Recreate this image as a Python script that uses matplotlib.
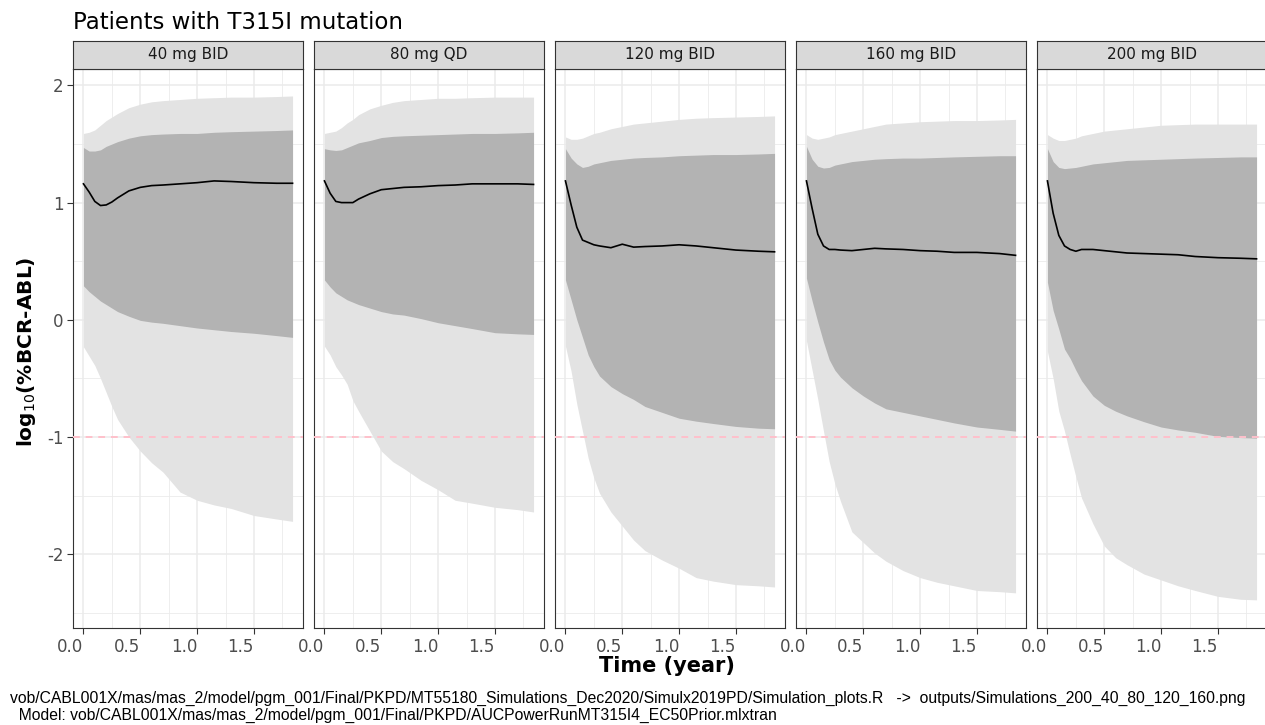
import matplotlib
matplotlib.use("Agg")
import matplotlib.pyplot as plt

panels = ["40 mg BID", "80 mg QD", "120 mg BID", "160 mg BID", "200 mg BID"]

t = [0, 0.05, 0.1, 0.15, 0.2, 0.25, 0.3, 0.4, 0.5, 0.6, 0.7, 0.85, 1.0, 1.15, 1.3, 1.5, 1.7, 1.84]

median = [
    [1.16, 1.09, 1.01, 0.975, 0.98, 1.005, 1.04, 1.10, 1.13, 1.145, 1.15, 1.16, 1.17, 1.185, 1.18, 1.17, 1.165, 1.165],
    [1.185, 1.08, 1.01, 1.0, 1.0, 1.0, 1.03, 1.075, 1.11, 1.12, 1.13, 1.135, 1.145, 1.15, 1.16, 1.16, 1.16, 1.155],
    [1.185, 0.98, 0.79, 0.68, 0.66, 0.64, 0.63, 0.615, 0.645, 0.62, 0.625, 0.63, 0.64, 0.63, 0.615, 0.595, 0.585, 0.58],
    [1.185, 0.95, 0.73, 0.63, 0.60, 0.60, 0.595, 0.59, 0.60, 0.61, 0.605, 0.60, 0.59, 0.585, 0.575, 0.575, 0.565, 0.55],
    [1.185, 0.91, 0.72, 0.63, 0.60, 0.585, 0.60, 0.60, 0.59, 0.58, 0.57, 0.565, 0.56, 0.555, 0.54, 0.53, 0.525, 0.52],
]
inner_hi = [
    [1.47, 1.44, 1.44, 1.45, 1.48, 1.50, 1.52, 1.55, 1.57, 1.58, 1.585, 1.59, 1.59, 1.60, 1.605, 1.61, 1.615, 1.62],
    [1.46, 1.45, 1.445, 1.45, 1.47, 1.49, 1.51, 1.53, 1.555, 1.565, 1.57, 1.575, 1.58, 1.585, 1.59, 1.59, 1.595, 1.60],
    [1.46, 1.38, 1.33, 1.30, 1.31, 1.33, 1.34, 1.36, 1.37, 1.38, 1.385, 1.39, 1.40, 1.405, 1.41, 1.41, 1.415, 1.42],
    [1.48, 1.37, 1.31, 1.295, 1.30, 1.32, 1.33, 1.35, 1.36, 1.37, 1.375, 1.38, 1.38, 1.385, 1.39, 1.395, 1.40, 1.40],
    [1.46, 1.35, 1.30, 1.29, 1.295, 1.30, 1.31, 1.33, 1.34, 1.35, 1.36, 1.365, 1.37, 1.375, 1.38, 1.385, 1.39, 1.39],
]
inner_lo = [
    [0.29, 0.24, 0.20, 0.16, 0.13, 0.10, 0.07, 0.03, -0.005, -0.02, -0.03, -0.05, -0.07, -0.085, -0.10, -0.115, -0.135, -0.15],
    [0.34, 0.28, 0.23, 0.20, 0.17, 0.15, 0.13, 0.10, 0.07, 0.05, 0.04, 0.01, -0.025, -0.05, -0.075, -0.11, -0.12, -0.125],
    [0.34, 0.17, 0.0, -0.15, -0.30, -0.40, -0.48, -0.57, -0.63, -0.68, -0.74, -0.79, -0.84, -0.865, -0.885, -0.91, -0.925, -0.93],
    [0.355, 0.16, -0.02, -0.19, -0.34, -0.43, -0.49, -0.58, -0.65, -0.71, -0.76, -0.79, -0.82, -0.85, -0.88, -0.915, -0.935, -0.95],
    [0.32, 0.08, -0.08, -0.25, -0.33, -0.43, -0.52, -0.65, -0.73, -0.78, -0.82, -0.87, -0.915, -0.94, -0.96, -0.995, -1.005, -1.01],
]
outer_hi = [
    [1.59, 1.60, 1.62, 1.66, 1.70, 1.73, 1.76, 1.81, 1.84, 1.86, 1.87, 1.88, 1.89, 1.895, 1.90, 1.90, 1.905, 1.91],
    [1.59, 1.60, 1.61, 1.64, 1.68, 1.71, 1.75, 1.80, 1.83, 1.855, 1.87, 1.88, 1.89, 1.89, 1.895, 1.90, 1.90, 1.90],
    [1.56, 1.54, 1.54, 1.55, 1.57, 1.59, 1.60, 1.63, 1.65, 1.67, 1.68, 1.695, 1.71, 1.72, 1.725, 1.73, 1.735, 1.74],
    [1.58, 1.55, 1.54, 1.55, 1.56, 1.58, 1.59, 1.61, 1.63, 1.65, 1.67, 1.68, 1.69, 1.695, 1.70, 1.70, 1.705, 1.71],
    [1.58, 1.55, 1.53, 1.53, 1.54, 1.55, 1.57, 1.59, 1.61, 1.62, 1.63, 1.645, 1.66, 1.665, 1.67, 1.67, 1.67, 1.67],
]
outer_lo = [
    [-0.23, -0.31, -0.39, -0.50, -0.62, -0.74, -0.85, -1.0, -1.12, -1.22, -1.30, -1.47, -1.54, -1.58, -1.61, -1.67, -1.70, -1.72],
    [-0.225, -0.30, -0.40, -0.47, -0.55, -0.69, -0.78, -0.95, -1.12, -1.21, -1.27, -1.37, -1.45, -1.54, -1.565, -1.60, -1.62, -1.64],
    [-0.225, -0.44, -0.72, -0.95, -1.18, -1.35, -1.48, -1.64, -1.76, -1.88, -1.97, -2.05, -2.12, -2.20, -2.23, -2.26, -2.27, -2.28],
    [-0.18, -0.43, -0.68, -0.95, -1.21, -1.40, -1.55, -1.81, -1.90, -1.99, -2.06, -2.14, -2.20, -2.24, -2.27, -2.31, -2.32, -2.33],
    [-0.27, -0.50, -0.78, -0.95, -1.15, -1.34, -1.52, -1.74, -1.93, -2.03, -2.09, -2.17, -2.22, -2.27, -2.31, -2.36, -2.385, -2.39],
]

W, H = 1265, 725
fig = plt.figure(figsize=(W / 100, H / 100), dpi=100)

border = "#333333"
grid_col = "#EBEBEB"
for i, name in enumerate(panels):
    left = (73 + 241 * i) / W
    ax = fig.add_axes([left, 1 - 628 / H, 230 / W, (628 - 69) / H])
    ax.fill_between(t, outer_lo[i], outer_hi[i], color="#E3E3E3", lw=0, zorder=2)
    ax.fill_between(t, inner_lo[i], inner_hi[i], color="#B3B3B3", lw=0, zorder=3)
    ax.plot(t, median[i], color="black", lw=1.2, zorder=4)
    ax.axhline(-1, color="#FFC0CB", ls=(0, (3.5, 3)), lw=1.4, zorder=5)

    ax.set_xlim(-0.092, 1.932)
    ax.set_ylim(-2.63, 2.14)
    ax.set_xticks([0, 0.5, 1.0, 1.5])
    ax.set_xticklabels(["0.0", "0.5", "1.0", "1.5"], ha="right")
    ax.set_xticks([0.25, 0.75, 1.25, 1.75], minor=True)
    ax.set_yticks([-2, -1, 0, 1, 2])
    ax.set_yticks([-2.5, -1.5, -0.5, 0.5, 1.5], minor=True)
    ax.grid(True, which="major", color=grid_col, lw=1.1, zorder=0)
    ax.grid(True, which="minor", color=grid_col, lw=0.6, zorder=0)
    ax.set_axisbelow(True)
    ax.tick_params(which="minor", length=0)
    ax.tick_params(which="major", length=4, width=0.8, color=border,
                   labelsize=12, labelcolor="#4D4D4D", pad=3)
    if i == 0:
        ax.set_yticklabels(["-2", "-1", "0", "1", "2"])
    else:
        ax.tick_params(axis="y", length=0, labelleft=False)
    for s in ax.spines.values():
        s.set_color(border)
        s.set_linewidth(0.8)

    sax = fig.add_axes([left, 1 - 69 / H, 230 / W, 28 / H])
    sax.set_facecolor("#D9D9D9")
    sax.set_xticks([])
    sax.set_yticks([])
    for s in sax.spines.values():
        s.set_color(border)
        s.set_linewidth(0.8)
    sax.text(0.5, 0.5, name, ha="center", va="center", fontsize=11,
             color="#1A1A1A", transform=sax.transAxes)

fig.text(73 / W, 1 - 29 / H, "Patients with T315I mutation", fontsize=16.5,
         ha="left", va="baseline", color="black")
fig.text(667 / W, 1 - 666 / H, "Time (year)", fontsize=15, fontweight="bold",
         ha="center", va="center")
fig.text(27 / W, 1 - 352 / H, "log$_{10}$(%BCR-ABL)", fontsize=14.5, fontweight="bold",
         rotation=90, ha="center", va="center")

cap1 = ("vob/CABL001X/mas/mas_2/model/pgm_001/Final/PKPD/MT55180_Simulations_Dec2020/"
        "Simulx2019PD/Simulation_plots.R   ->  outputs/Simulations_200_40_80_120_160.png")
cap2 = "  Model: vob/CABL001X/mas/mas_2/model/pgm_001/Final/PKPD/AUCPowerRunMT315I4_EC50Prior.mlxtran"
fig.text(10 / W, 1 - 698 / H, cap1, fontsize=11.3, family="Liberation Sans",
         ha="left", va="center")
fig.text(10 / W, 1 - 715 / H, cap2, fontsize=11.3, family="Liberation Sans",
         ha="left", va="center")

fig.savefig("out.png", dpi=100)
